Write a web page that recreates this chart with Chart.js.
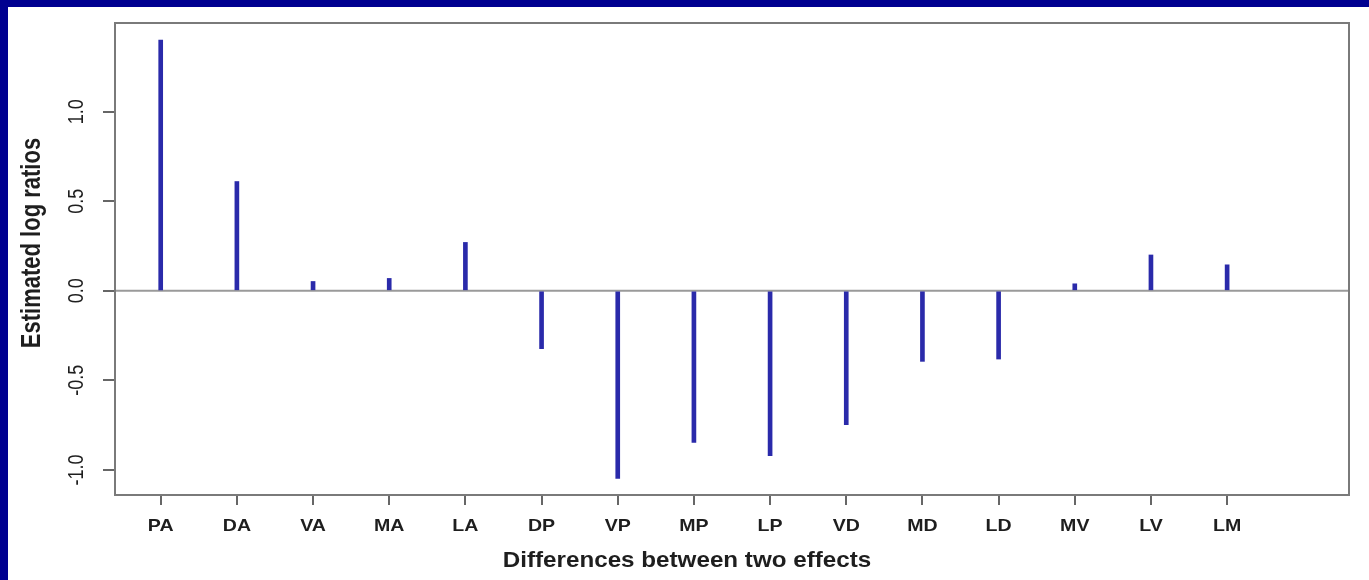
<!DOCTYPE html>
<html>
<head>
<meta charset="utf-8">
<script src="https://cdn.jsdelivr.net/npm/chart.js@4"></script>
<style>
  html, body { margin: 0; padding: 0; background: #fff; }
  #moldura {
    width: 1361px; height: 573px;
    border-left: 8px solid #000090;
    border-top: 7px solid #000090;
    background: #fff;
  }
  canvas { display: block; }
</style>
</head>
<body>
<div id="moldura"><canvas id="graficoRazoes" width="1361" height="573"></canvas></div>
<script>
// categorias (diferencas entre dois efeitos)
var categorias = ['PA', 'DA', 'VA', 'MA', 'LA', 'DP', 'VP', 'MP', 'LP', 'VD', 'MD', 'LD', 'MV', 'LV', 'LM'];
// razoes log estimadas
var razoesLog = [1.40, 0.61, 0.052, 0.069, 0.27, -0.323, -1.047, -0.847, -0.92, -0.747, -0.394, -0.381, 0.039, 0.20, 0.145];
// ticks do eixo y
var ticksY = [-1.0, -0.5, 0.0, 0.5, 1.0];
var rotulosY = ['-1.0', '-0.5', '0.0', '0.5', '1.0'];

var tituloX = 'Differences between two effects';
var tituloY = 'Estimated log ratios';

var corTexto = '#1e1e1e';
var fonte = '"Liberation Sans", Arial, sans-serif';

// escreve texto esticado na horizontal (a imagem original e esticada)
function escreve(ctx, txt, x, y, font, sx, girar) {
  ctx.save();
  ctx.translate(x, y);
  ctx.scale(sx, 1);
  if (girar) ctx.rotate(-Math.PI / 2);
  ctx.font = font;
  ctx.fillStyle = corTexto;
  ctx.textAlign = 'center';
  ctx.textBaseline = 'middle';
  ctx.fillText(txt, 0, 0);
  ctx.restore();
}

var pluginEstiloR = {
  id: 'estiloR',
  beforeDatasetsDraw: function (chart) {
    var ctx = chart.ctx, a = chart.chartArea;
    var y0 = chart.scales.y.getPixelForValue(0);
    ctx.save();
    ctx.strokeStyle = '#9a9a9a';
    ctx.lineWidth = 2;
    ctx.beginPath();
    ctx.moveTo(a.left, y0);
    ctx.lineTo(a.right, y0);
    ctx.stroke();
    ctx.restore();
  },
  afterDraw: function (chart) {
    var ctx = chart.ctx, a = chart.chartArea;
    var sx = chart.scales.x, sy = chart.scales.y;
    // caixa
    ctx.save();
    ctx.strokeStyle = '#7a7a7a';
    ctx.lineWidth = 2;
    ctx.strokeRect(a.left, a.top, a.right - a.left, a.bottom - a.top);
    ctx.restore();

    // rotulos do eixo y (girados, estilo R)
    ticksY.forEach(function (v, i) {
      escreve(ctx, rotulosY[i], 69, sy.getPixelForValue(v), '18px ' + fonte, 1.2, true);
    });
    // rotulos do eixo x
    categorias.forEach(function (c, i) {
      escreve(ctx, c, sx.getPixelForValue(i + 1), 519, 'bold 17px ' + fonte, 1.15, false);
    });
    // titulos
    escreve(ctx, tituloX, 679, 554, 'bold 22px ' + fonte, 1.1, false);
    escreve(ctx, tituloY, 24, 236, 'bold 22px ' + fonte, 1.25, true);
  }
};

var ctx = document.getElementById('graficoRazoes').getContext('2d');

new Chart(ctx, {
  type: 'bar',
  data: {
    datasets: [{
      label: tituloY,
      data: categorias.map(function (c, i) { return { x: i + 1, y: razoesLog[i] }; }),
      backgroundColor: '#2a2aaa',
      borderWidth: 0,
      barThickness: 4
    }]
  },
  options: {
    responsive: false,
    animation: false,
    layout: { padding: { top: 16, right: 20, left: 0, bottom: 0 } },
    plugins: {
      legend: { display: false },
      tooltip: { enabled: false }
    },
    scales: {
      x: {
        type: 'linear',
        min: 0.4,
        max: 16.6,
        offset: false,
        afterBuildTicks: function (scale) {
          scale.ticks = categorias.map(function (c, i) { return { value: i + 1 }; });
        },
        afterFit: function (scale) { scale.height = 85; },
        ticks: { display: false },
        border: { display: false },
        grid: { offset: false, drawOnChartArea: false, drawTicks: true, tickLength: 10, color: '#666', lineWidth: 2 }
      },
      y: {
        min: -1.14,
        max: 1.495,
        afterBuildTicks: function (scale) {
          scale.ticks = ticksY.map(function (v) { return { value: v }; });
        },
        afterFit: function (scale) { scale.width = 107; },
        ticks: { display: false },
        border: { display: false },
        grid: { drawOnChartArea: false, drawTicks: true, tickLength: 12, color: '#666', lineWidth: 2 }
      }
    }
  },
  plugins: [pluginEstiloR]
});
</script>
</body>
</html>
